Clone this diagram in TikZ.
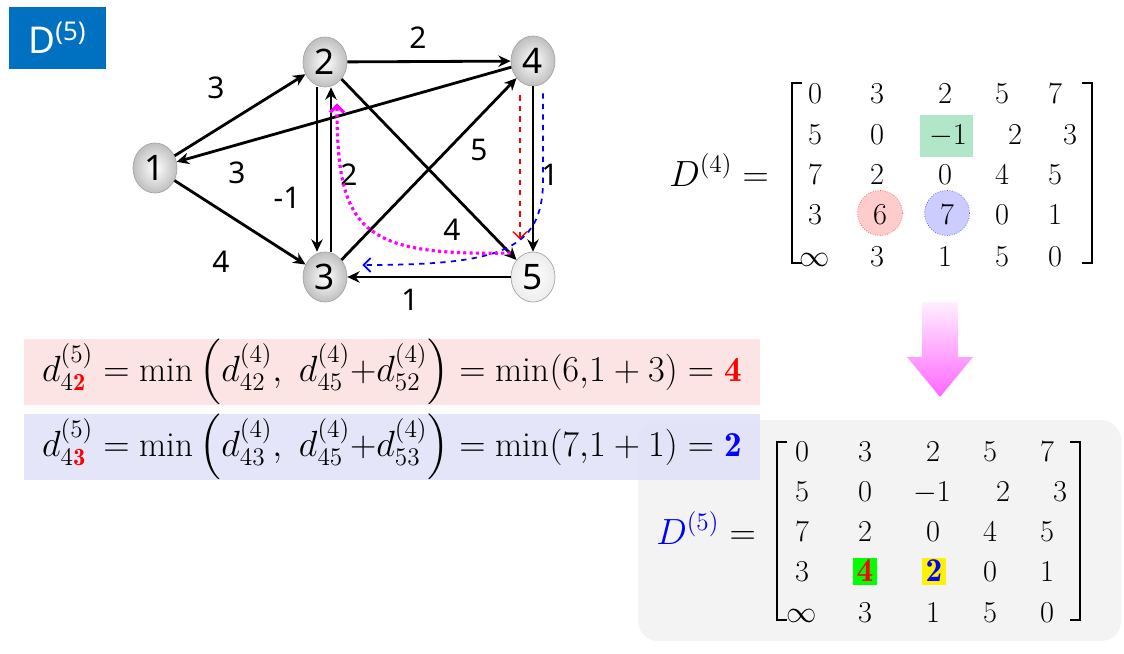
\documentclass[tikz,border=0pt]{standalone}
\usepackage{amsmath}
\usepackage{fontspec}
\newfontfamily\grfont{Noto Sans}
\usetikzlibrary{arrows.meta,positioning,shapes.geometric,calc}
\definecolor{titleblue}{RGB}{0,112,192}
\definecolor{pinkband}{RGB}{252,228,228}
\definecolor{blueband}{RGB}{226,226,248}
\definecolor{panelgray}{RGB}{243,243,243}
\definecolor{hlgreen}{RGB}{178,230,200}
\definecolor{pathmag}{RGB}{255,0,255}

\begin{document}
\begin{tikzpicture}[x=0.02cm, y=-0.02cm,
    vtx/.style={ellipse, draw=gray!70, thin, minimum width=0.88cm,
                minimum height=1cm, inner sep=0pt, inner color=white,
                outer color=gray!50, font=\grfont\fontsize{20}{20}\selectfont},
    wt/.style={font=\grfont\fontsize{17}{17}\selectfont},
    link/.style={-{Stealth[length=7pt,width=6.5pt]}, line width=1.6pt},
    ent/.style={font=\fontsize{19}{19}\selectfont, inner sep=0pt,
                text height=12pt, text depth=0pt},
    band/.style={minimum width=14.72cm, minimum height=1.14cm, inner sep=0pt,
                 font=\fontsize{20}{24}\selectfont},
    brk/.style={line width=1.3pt},
    barb/.style={-{Straight Barb[length=4pt,width=8pt]}},
  ]
  \useasboundingbox (0,0) rectangle (1124,653);

  % title
  \node[fill=titleblue, text=white, minimum width=1.94cm, minimum height=1.24cm,
        inner sep=0pt, font=\grfont\fontsize{21}{21}\selectfont] (title) at (57.5,38)
        {D\textsuperscript{(5)}};

  % graph
  \node[vtx] (n1) at (155,168) {1};
  \node[vtx] (n2) at (325,62) {2};
  \node[vtx] (n3) at (325,277) {3};
  \node[vtx] (n4) at (533,61) {4};
  \node[vtx, outer color=gray!15] (n5) at (533,277) {5};

  \draw[link] (n1) -- (n2);
  \draw[link] (n4) -- (n1);
  \draw[link] (n1) -- (n3);
  \draw[link] (n2) -- (n4);
  \draw[link] ([xshift=-0.16cm]n2.south) -- ([xshift=-0.16cm]n3.north);
  \draw[link] ([xshift=0.12cm]n3.north) -- ([xshift=0.12cm]n2.south);
  \draw[link] (n3) -- (n4);
  \draw[link] (n2) -- (n5);
  \draw[link] (n4) -- (n5);
  \draw[link] (n5) -- (n3);

  \node[wt] (w12) at (216,88) {3};
  \node[wt] (w41) at (237,173) {3};
  \node[wt] (w13) at (221,262) {4};
  \node[wt] (w24) at (418,38) {2};
  \node[wt] (w23) at (287,198) {-1};
  \node[wt] (w32) at (349,175) {2};
  \node[wt] (w34) at (479,150) {5};
  \node[wt] (w25) at (452,230) {4};
  \node[wt] (w45) at (550,175) {1};
  \node[wt] (w53) at (410,300) {1};

  % paths through 5
  \draw[red, dashed, line width=0.8pt, barb]
    ([xshift=-0.26cm,yshift=-0.18cm]n4.south) -- ([xshift=-0.26cm,yshift=0.24cm]n5.north);
  \draw[blue, dashed, line width=1pt, barb]
    ([xshift=0.2cm,yshift=-0.14cm]n4.south) -- ++(0,87)
    .. controls +(0,70) and +(138,0) .. ([xshift=0.3cm,yshift=0.24cm]n3.east);
  \draw[pathmag, line width=1.8pt, dash pattern=on 1.8pt off 1.8pt, barb]
    ([yshift=0.48cm]n5.west) .. controls +(-150,3) and +(0,127) ..
    ([xshift=0.24cm,yshift=-0.32cm]n2.south);

  % D4
  \node[font=\fontsize{21}{21}\selectfont] (dfour) at (719,170) {$D^{(4)} =$};
  \fill[hlgreen] (920,115) rectangle (973,157);
  \node[circle, fill=red!20, draw=red!70, densely dotted, minimum size=0.9cm] (hlsix) at (880,213) {};
  \node[circle, fill=blue!20, draw=blue!70, densely dotted, minimum size=0.9cm] (hlseven) at (947,213) {};
  \foreach \v/\x [count=\c] in {0/815,3/877,2/945,5/1002,7/1055}
    \node[ent] (pa\c) at (\x,93) {$\v$};
  \foreach \v/\x [count=\c] in {5/815,0/877,-1/948,2/1015,3/1070}
    \node[ent] (pb\c) at (\x,134) {$\v$};
  \foreach \v/\x [count=\c] in {7/815,2/877,0/945,4/1002,5/1055}
    \node[ent] (pc\c) at (\x,174) {$\v$};
  \foreach \v/\x [count=\c] in {3/815,6/880,7/947,0/1002,1/1055}
    \node[ent] (pd\c) at (\x,214) {$\v$};
  \foreach \v/\x [count=\c] in {\infty/815,3/877,1/945,5/1002,0/1055}
    \node[ent] (pe\c) at (\x,256) {$\v$};
  \draw[brk] (802,83) -- (792,83) -- (792,263) -- (802,263);
  \draw[brk] (1082,83) -- (1092,83) -- (1092,263) -- (1082,263);

  % arrow down
  \shade[top color=pathmag!6, bottom color=pathmag!60]
    (922,302) -- (958,302) -- (958,357) -- (973,357) -- (940,397)
    -- (907,357) -- (922,357) -- cycle;

  % D5 panel
  \fill[panelgray, rounded corners=0.4cm] (638,420) rectangle (1121,641);

  % equations
  \node[band, fill=pinkband] (eqtwo) at (392,372)
    {$d^{(5)}_{4{\color{red}\mathbf{2}}} = \min\left(d^{(4)}_{42},\ d^{(4)}_{45}{+}d^{(4)}_{52}\right) = \min(6{,}1+3) = {\color{red}\mathbf{4}}$};
  \node[band, fill=blueband, fill opacity=0.9, text opacity=1] (eqthree) at (392,447)
    {$d^{(5)}_{4{\color{red}\mathbf{3}}} = \min\left(d^{(4)}_{43},\ d^{(4)}_{45}{+}d^{(4)}_{53}\right) = \min(7{,}1+1) = {\color{blue}\mathbf{2}}$};

  % D5
  \node[font=\fontsize{21}{21}\selectfont] (dfive) at (706,528) {$\color{blue}D^{(5)}\color{black} =$};
  \fill[green] (853,558) rectangle (877,585);
  \fill[yellow] (922,558) rectangle (946,585);
  \foreach \v/\x [count=\c] in {0/802,3/865,2/933,5/990,7/1047}
    \node[ent] (qa\c) at (\x,451) {$\v$};
  \foreach \v/\x [count=\c] in {5/802,0/865,-1/932,2/1003,3/1060}
    \node[ent] (qb\c) at (\x,491) {$\v$};
  \foreach \v/\x [count=\c] in {7/802,2/865,0/933,4/990,5/1047}
    \node[ent] (qc\c) at (\x,531) {$\v$};
  \node[ent] (qd1) at (802,571) {$3$};
  \node[ent] (qd2) at (865,571) {$\color{red}\mathbf{4}$};
  \node[ent] (qd3) at (934,571) {$\color{blue}\mathbf{2}$};
  \node[ent] (qd4) at (990,571) {$0$};
  \node[ent] (qd5) at (1047,571) {$1$};
  \foreach \v/\x [count=\c] in {\infty/802,3/865,1/933,5/990,0/1047}
    \node[ent] (qe\c) at (\x,612) {$\v$};
  \draw[brk] (787,442) -- (777,442) -- (777,620) -- (787,620);
  \draw[brk] (1070,442) -- (1080,442) -- (1080,620) -- (1070,620);
\end{tikzpicture}
\end{document}
